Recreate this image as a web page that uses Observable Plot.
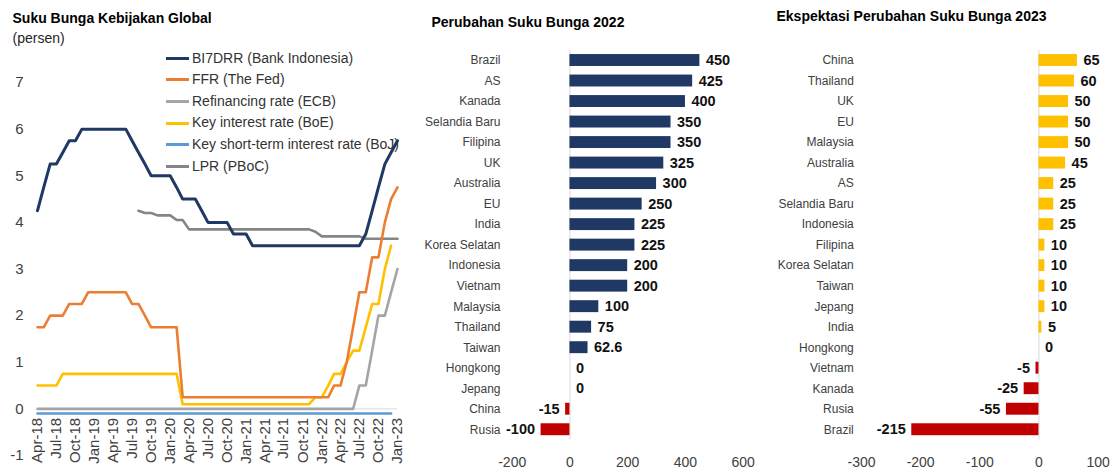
<!DOCTYPE html>
<html><head><meta charset="utf-8">
<script src="https://cdn.jsdelivr.net/npm/d3@7"></script>
<script src="https://cdn.jsdelivr.net/npm/@observablehq/plot@0.6"></script>
<style>
body{margin:0;background:#fff;font-family:"Liberation Sans",Arial,sans-serif;}
#root{position:relative;width:1116px;height:471px;overflow:hidden;background:#fff;}
.abs{position:absolute;white-space:nowrap;}
.title{font-weight:bold;font-size:14px;line-height:16px;color:#000;}
.sub{font-size:14px;line-height:16px;color:#262626;}
#legend{left:166px;top:47.5px;width:234px;overflow:hidden;z-index:5;}
#legend .row{height:21.67px;line-height:21.67px;font-size:14px;color:#333;display:flex;align-items:center;}
#legend .sw{display:inline-block;width:23px;height:3px;margin-right:3px;flex:none;}
</style></head><body><div id="root"></div>
<script>
const FONT = "Liberation Sans, Arial, sans-serif";
const NARROW = "Liberation Sans Narrow, Arial Narrow, Liberation Sans, Arial, sans-serif";

// ---------- Left chart data (monthly, Apr-18 .. Jan-23) ----------
const monthStart = "2018-04";
const monthEnd = "2023-01";
const tickLabels = ["Apr-18","Jul-18","Oct-18","Jan-19","Apr-19","Jul-19","Oct-19","Jan-20","Apr-20","Jul-20","Oct-20","Jan-21","Apr-21","Jul-21","Oct-21","Jan-22","Apr-22","Jul-22","Oct-22","Jan-23"];
const yTicks = [-1,0,1,2,3,4,5,6,7];
const seriesNames = ["BI7DRR (Bank Indonesia)","FFR (The Fed)","Refinancing rate (ECB)","Key interest rate (BoE)","Key short-term interest rate (BoJ)","LPR (PBoC)"];
const seriesColors = ["#1F3864","#ED7D31","#A5A5A5","#FFC000","#5B9BD5","#858585"];

const bi7drr = [
  4.25,4.75,5.25,5.25,5.5,5.75,5.75,6,6,
  6,6,6,6,6,6,5.75,5.5,5.25,5,5,5,
  5,4.75,4.5,4.5,4.5,4.25,4,4,4,4,3.75,3.75,
  3.75,3.5,3.5,3.5,3.5,3.5,3.5,3.5,3.5,3.5,3.5,3.5,
  3.5,3.5,3.5,3.5,3.5,3.5,3.5,3.75,4.25,4.75,5.25,5.5,
  5.75];
const ffr = [
  1.75,1.75,2,2,2,2.25,2.25,2.25,2.5,
  2.5,2.5,2.5,2.5,2.5,2.5,2.25,2.25,2,1.75,1.75,1.75,
  1.75,1.75,0.25,0.25,0.25,0.25,0.25,0.25,0.25,0.25,0.25,0.25,
  0.25,0.25,0.25,0.25,0.25,0.25,0.25,0.25,0.25,0.25,0.25,0.25,
  0.25,0.25,0.5,0.5,1,1.75,2.5,2.5,3.25,3.25,4,4.5,
  4.75];
const ecb = [
  0,0,0,0,0,0,0,0,0,
  0,0,0,0,0,0,0,0,0,0,0,0,
  0,0,0,0,0,0,0,0,0,0,0,0,
  0,0,0,0,0,0,0,0,0,0,0,0,
  0,0,0,0,0,0,0.5,0.5,1.25,2,2,2.5,
  3];
const boe = [
  0.5,0.5,0.5,0.5,0.75,0.75,0.75,0.75,0.75,
  0.75,0.75,0.75,0.75,0.75,0.75,0.75,0.75,0.75,0.75,0.75,0.75,
  0.75,0.75,0.1,0.1,0.1,0.1,0.1,0.1,0.1,0.1,0.1,0.1,
  0.1,0.1,0.1,0.1,0.1,0.1,0.1,0.1,0.1,0.1,0.1,0.25,
  0.25,0.5,0.75,0.75,1,1.25,1.25,1.75,2.25,2.25,3,3.5,
  null];
const boj = [
  -0.1,-0.1,-0.1,-0.1,-0.1,-0.1,-0.1,-0.1,-0.1,
  -0.1,-0.1,-0.1,-0.1,-0.1,-0.1,-0.1,-0.1,-0.1,-0.1,-0.1,-0.1,
  -0.1,-0.1,-0.1,-0.1,-0.1,-0.1,-0.1,-0.1,-0.1,-0.1,-0.1,-0.1,
  -0.1,-0.1,-0.1,-0.1,-0.1,-0.1,-0.1,-0.1,-0.1,-0.1,-0.1,-0.1,
  -0.1,-0.1,-0.1,-0.1,-0.1,-0.1,-0.1,-0.1,-0.1,-0.1,-0.1,-0.1,
  null];
const lpr = [
  null,null,null,null,null,null,null,null,null,
  null,null,null,null,null,null,null,4.25,4.2,4.2,4.15,4.15,
  4.15,4.05,4.05,3.85,3.85,3.85,3.85,3.85,3.85,3.85,3.85,3.85,
  3.85,3.85,3.85,3.85,3.85,3.85,3.85,3.85,3.85,3.85,3.85,3.8,
  3.7,3.7,3.7,3.7,3.7,3.7,3.7,3.65,3.65,3.65,3.65,3.65,
  3.65];

// ---------- Middle chart data ----------
const countries2022 = ["Brazil","AS","Kanada","Selandia Baru","Filipina","UK","Australia","EU","India","Korea Selatan","Indonesia","Vietnam","Malaysia","Thailand","Taiwan","Hongkong","Jepang","China","Rusia"];
const change2022 = [450,425,400,350,350,325,300,250,225,225,200,200,100,75,62.6,0,0,-15,-100];
const ticks2022 = [-200,0,200,400,600];

// ---------- Right chart data ----------
const countries2023 = ["China","Thailand","UK","EU","Malaysia","Australia","AS","Selandia Baru","Indonesia","Filipina","Korea Selatan","Taiwan","Jepang","India","Hongkong","Vietnam","Kanada","Rusia","Brazil"];
const change2023 = [65,60,50,50,50,45,25,25,25,10,10,10,10,5,0,-5,-25,-55,-215];
const ticks2023 = [-300,-200,-100,0,100];

const root = document.getElementById("root");
function place(el, x, y){ el.style.position="absolute"; el.style.left=x+"px"; el.style.top=y+"px"; root.appendChild(el); return el; }
function addText(txt, cls, x, y){ const d=document.createElement("div"); d.className="abs "+cls; d.textContent=txt; d.style.left=x+"px"; d.style.top=y+"px"; root.appendChild(d); return d; }

// ---------- Left chart ----------
const parseMonth = d3.utcParse("%Y-%m");
const parseTick = d3.utcParse("%b-%y");
const months = d3.utcMonth.range(parseMonth(monthStart), d3.utcMonth.offset(parseMonth(monthEnd), 1));
const seriesValues = [bi7drr, ffr, ecb, boe, boj, lpr];
const drawOrder = [4, 2, 5, 3, 1, 0];
const lineMarks = drawOrder.map(k => {
  const rows = months.map((m, i) => ({date: m, value: seriesValues[k][i]})).filter(r => r.value != null);
  return Plot.line(rows, {x: "date", y: "value", stroke: seriesColors[k], strokeWidth: k === 0 ? 3 : 2.6, strokeLinejoin: "round"});
});

const leftPlot = Plot.plot({
  width: 410, height: 471,
  marginLeft: 37, marginRight: 13, marginTop: 82, marginBottom: 16,
  style: {fontSize: "15px", fontFamily: FONT, color: "#404040", background: "transparent"},
  x: {type: "utc", domain: [parseMonth(monthStart), parseMonth(monthEnd)], axis: null},
  y: {domain: [-1, 7], ticks: yTicks, tickSize: 0, tickPadding: 14, label: null, tickFormat: d => String(d)},
  marks: [
    Plot.ruleY([0], {stroke: "#d9d9d9", strokeWidth: 1}),
    ...lineMarks,
    Plot.text(tickLabels, {x: d => parseTick(d), y: () => 0, text: d => d, rotate: -90, textAnchor: "end", dy: 9, fontSize: 15, fill: "#404040", fontFamily: FONT})
  ]
});
place(leftPlot, 0, 0);

// legend
const legend = document.createElement("div");
legend.id = "legend"; legend.className = "abs";
seriesNames.forEach((n, k) => {
  const row = document.createElement("div"); row.className = "row";
  const sw = document.createElement("span"); sw.className = "sw"; sw.style.background = seriesColors[k];
  const t = document.createElement("span"); t.textContent = n;
  row.appendChild(sw); row.appendChild(t); legend.appendChild(row);
});
root.appendChild(legend);

addText("Suku Bunga Kebijakan Global", "title", 12.5, 10.4);
addText("(persen)", "sub", 12.5, 30.4);

// ---------- Bar chart helper ----------
function barChart({countries, values, ticks, domain, posColor, width, marginLeft, marginRight, labelPad}) {
  const rows = countries.map((c, i) => ({country: c, value: values[i]}));
  return Plot.plot({
    width, height: 471,
    marginLeft, marginRight, marginTop: 49.75, marginBottom: 31.5,
    style: {fontSize: "14px", fontFamily: FONT, color: "#404040", background: "transparent"},
    x: {domain, ticks, tickSize: 0, tickPadding: 17, label: null, tickFormat: d => String(d)},
    y: {domain: countries, padding: 0, round: false, axis: null},
    marks: [
      Plot.ruleX([0], {stroke: "#d9d9d9", strokeWidth: 1}),
      Plot.barX(rows.filter(r => r.value > 0), {x: "value", y: "country", fill: posColor, insetTop: 4.3, insetBottom: 4.3}),
      Plot.barX(rows.filter(r => r.value < 0), {x: "value", y: "country", fill: "#C00000", insetTop: 4.3, insetBottom: 4.3}),
      Plot.text(countries, {y: d => d, text: d => d, frameAnchor: "left", textAnchor: "end", dx: -labelPad, fontSize: 12, fill: "#404040", fontFamily: NARROW}),
      Plot.text(rows.filter(r => r.value >= 0), {x: "value", y: "country", text: r => String(r.value), textAnchor: "start", dx: 6, fontSize: 14.5, fontWeight: "bold", fill: "#111", fontFamily: NARROW}),
      Plot.text(rows.filter(r => r.value < 0), {x: "value", y: "country", text: r => String(r.value), textAnchor: "end", dx: -6, fontSize: 14.5, fontWeight: "bold", fill: "#111", fontFamily: NARROW})
    ]
  });
}

const mid = barChart({countries: countries2022, values: change2022, ticks: ticks2022, domain: [-200, 600], posColor: "#1F3864", width: 340, marginLeft: 91.7, marginRight: 17.3, labelPad: 11.7});
place(mid, 420, 0);
addText("Perubahan Suku Bunga 2022", "title", 431.5, 13.8);

const right = barChart({countries: countries2023, values: change2023, ticks: ticks2023, domain: [-300, 100], posColor: "#FFC000", width: 346, marginLeft: 91, marginRight: 18.4, labelPad: 7.7});
place(right, 770, 0);
addText("Ekspektasi Perubahan Suku Bunga 2023", "title", 776.5, 8.1);
</script>
</body></html>
